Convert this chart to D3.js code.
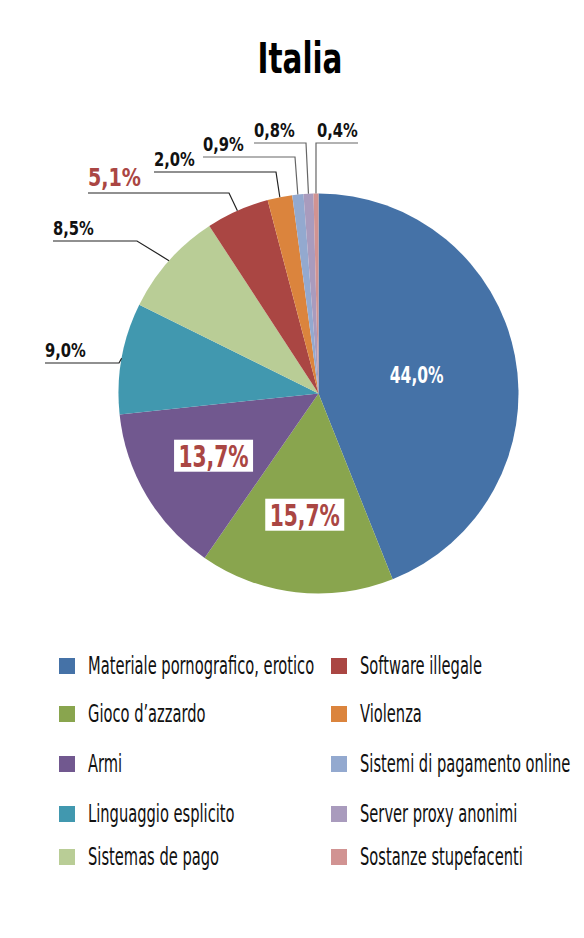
<!DOCTYPE html>
<html>
<head>
<meta charset="utf-8">
<script src="https://cdn.jsdelivr.net/npm/d3@7"></script>
<style>
  body { margin: 0; background: #fff; }
  text { font-family: "DejaVu Sans Condensed", "DejaVu Sans", sans-serif; font-stretch: condensed; }
</style>
</head>
<body>
<div id="chart"></div>
<script>
// data
const categories = ["Materiale pornografico, erotico", "Gioco d\u2019azzardo", "Armi", "Linguaggio esplicito",
  "Sistemas de pago", "Software illegale", "Violenza", "Sistemi di pagamento online",
  "Server proxy anonimi", "Sostanze stupefacenti"];
const values = [44.0, 15.7, 13.7, 9.0, 8.5, 5.1, 2.0, 0.9, 0.8, 0.4];
const labels = ["44,0%", "15,7%", "13,7%", "9,0%", "8,5%", "5,1%", "2,0%", "0,9%", "0,8%", "0,4%"];
const colors = ["#4572A7", "#89A54E", "#71588F", "#4198AF", "#B9CD96",
  "#AA4643", "#DB843D", "#93A9CF", "#A99BBD", "#D19392"];

const width = 584, height = 938;
const cx = 318.5, cy = 393.5, radius = 200;

// where the outside labels sit: text start x, line y, elbow x
const outside = {
  3: { x0: 45, x1: 119, y: 363 },
  4: { x0: 53, x1: 137, y: 241 },
  5: { x0: 88, x1: 229, y: 193 },
  6: { x0: 154, x1: 276, y: 172 },
  7: { x0: 203, x1: 295, y: 157 },
  8: { x0: 254, x1: 306, y: 143 },
  9: { x0: 358, x1: 316, y: 143 }
};

const svg = d3.select("#chart").append("svg")
  .attr("width", width)
  .attr("height", height);

// condensed text: squeeze horizontally around its anchor point
function label(parent, x, y, sx, str) {
  return parent.append("text")
    .attr("transform", `translate(${x},${y}) scale(${sx},1)`)
    .text(str);
}

label(svg, 300, 73, 0.78, "Italia")
  .attr("text-anchor", "middle")
  .style("font-size", "42px").style("font-weight", "bold");

const pie = d3.pie().sort(null).value(d => d)(values);
const arc = d3.arc().innerRadius(0).outerRadius(radius);

const g = svg.append("g").attr("transform", `translate(${cx},${cy})`);

g.selectAll("path")
  .data(pie)
  .join("path")
  .attr("d", arc)
  .attr("fill", (d, i) => colors[i]);

// inside labels
const inner = d3.arc().innerRadius(0).outerRadius(2 * 122);
const main = d3.arc().innerRadius(0).outerRadius(radius);

const c0 = main.centroid(pie[0]);
label(g, c0[0], c0[1] + 8, 0.75, labels[0])
  .attr("text-anchor", "middle")
  .attr("fill", "#fff")
  .style("font-size", "23px").style("font-weight", "bold");

[1, 2].forEach(i => {
  const c = inner.centroid(pie[i]);
  g.append("rect")
    .attr("x", c[0] - 39.5).attr("y", c[1] - 16)
    .attr("width", 79).attr("height", 32)
    .attr("fill", "#fff");
  label(g, c[0], c[1] + 11, 0.75, labels[i])
    .attr("text-anchor", "middle")
    .attr("fill", "#AA4643")
    .style("font-size", "30px").style("font-weight", "bold");
});

// outside labels with leader lines
Object.keys(outside).forEach(k => {
  const i = +k, o = outside[k];
  const a = (pie[i].startAngle + pie[i].endAngle) / 2;
  const px = cx + radius * Math.sin(a), py = cy - radius * Math.cos(a);
  svg.append("polyline")
    .attr("points", `${o.x0},${o.y} ${o.x1},${o.y} ${px},${py}`)
    .attr("fill", "none")
    .attr("stroke", i >= 7 ? "#666" : "#222")
    .attr("stroke-width", 1.2);
  const big = i === 5;
  label(svg, Math.min(o.x0, o.x1) + (i === 9 ? 1 : 0), o.y - (big ? 7 : 6), big ? 0.85 : 0.82, labels[i])
    .attr("fill", big ? "#AA4643" : "#111")
    .style("font-size", big ? "25px" : "20px").style("font-weight", "bold");
});

// legend
const rows = [666, 714, 764, 814, 857];
const legend = svg.append("g");
categories.forEach((c, i) => {
  const col = i < 5 ? 0 : 1, row = i % 5;
  const x = col === 0 ? 59 : 331;
  const y = rows[row];
  legend.append("rect")
    .attr("x", x).attr("y", y - 8)
    .attr("width", 16).attr("height", 16)
    .attr("fill", colors[i]);
  label(legend, x + 29, y + 8, 0.68, c)
    .attr("fill", "#111")
    .style("font-size", "24px");
});
</script>
</body>
</html>
